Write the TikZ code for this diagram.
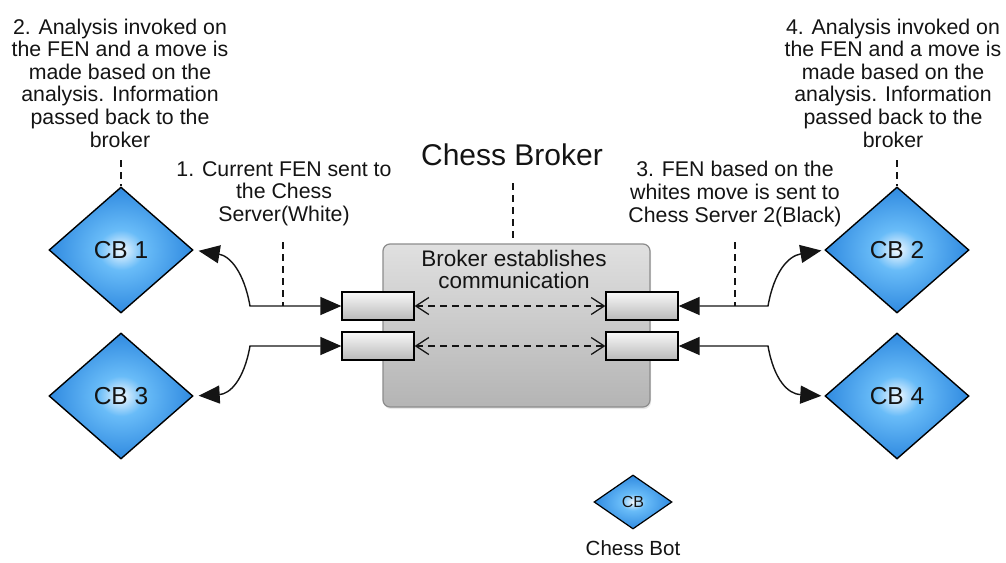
\documentclass[tikz,border=0pt]{standalone}
\usepackage{fontspec}
\setmainfont{Liberation Sans}
\usetikzlibrary{shapes.geometric,arrows.meta,shadows}
\definecolor{cbdark}{RGB}{48,138,224}
\definecolor{cbmid}{RGB}{105,188,248}
\definecolor{cblight}{RGB}{242,249,255}
\definecolor{brokertop}{RGB}{224,224,224}
\definecolor{brokerbot}{RGB}{180,180,180}
\definecolor{brokeredge}{RGB}{140,140,140}
\definecolor{porttop}{RGB}{248,248,248}
\definecolor{portbot}{RGB}{185,185,185}
\definecolor{ink}{RGB}{20,20,20}
% blue glow used inside the bot diamonds
\pgfdeclareradialshading{botglow}{\pgfpoint{0bp}{0bp}}{%
  color(0bp)=(cblight); color(8bp)=(cbmid); color(25bp)=(cbdark); color(50bp)=(cbdark)}
\tikzset{
  bot/.style={diamond, draw=black, line width=1.4pt, inner sep=0pt,
    shading=botglow, text=ink,
    font=\fontsize{24.5}{26}\selectfont},
  note/.style={align=center, text=ink, font=\fontsize{21.3}{22.6}\selectfont},
  brokerbox/.style={rectangle, rounded corners=7pt, draw=brokeredge, line width=1.2pt,
    top color=brokertop, bottom color=brokerbot,
    drop shadow={opacity=0.18, shadow xshift=1pt, shadow yshift=-2pt}},
  port/.style={rectangle, draw=black, line width=1.3pt, minimum width=72pt,
    minimum height=28pt, inner sep=0pt, top color=porttop, bottom color=portbot},
  tipfill/.tip={Triangle[length=21pt,width=18pt]},
  tipbarb/.tip={Straight Barb[length=13pt,width=17pt]},
  conn/.style={line width=1.4pt, draw=ink, tipfill-tipfill},
  link/.style={line width=1.3pt, draw=ink, dash pattern=on 7pt off 5pt, tipbarb-tipbarb},
  ptr/.style={line width=1.4pt, draw=ink, dash pattern=on 7pt off 5pt},
}
\begin{document}
\begin{tikzpicture}[x=1pt,y=-1pt]
\useasboundingbox[fill=white] (0,0) rectangle (1006,562);

% broker with its four ports
\node[brokerbox, minimum width=267pt, minimum height=163pt] (broker) at (516.5,325.5) {};
\node[note, font=\fontsize{22.5}{22}\selectfont] (est) at (514,269) {Broker establishes\\communication};
\node[port] (p1) at (378,306) {};
\node[port] (p3) at (378,346) {};
\node[port] (p2) at (642,306) {};
\node[port] (p4) at (642,346) {};
\draw[link] (p1.east) -- (p2.west);
\draw[link] (p3.east) -- (p4.west);

% chess bots
\node[bot, minimum width=144pt, minimum height=126pt] (cb1) at (121,250) {CB 1};
\node[bot, minimum width=144pt, minimum height=126pt] (cb3) at (121,396) {CB 3};
\node[bot, minimum width=144pt, minimum height=126pt] (cb2) at (897,250) {CB 2};
\node[bot, minimum width=144pt, minimum height=126pt] (cb4) at (897,396) {CB 4};
\node[bot, minimum width=78pt, minimum height=54pt, line width=1.2pt,
      font=\fontsize{16}{18}\selectfont] (cb) at (633,502) {CB};
\node[note, font=\fontsize{20.5}{22}\selectfont] (legend) at (633,548) {Chess Bot};

% connectors between bots and ports
\coordinate (j1) at (250,306);
\coordinate (j3) at (250,346);
\coordinate (j2) at (768,306);
\coordinate (j4) at (768,346);
\draw[conn, shorten >=5pt] (p1.west) -- (j1) .. controls (244,272) and (230,256) .. (cb1.east);
\draw[conn, shorten >=5pt] (p3.west) -- (j3) .. controls (244,380) and (230,394) .. (cb3.east);
\draw[conn, shorten >=3pt] (p2.east) -- (j2) .. controls (774,272) and (788,256) .. (cb2.west);
\draw[conn, shorten >=3pt] (p4.east) -- (j4) .. controls (774,380) and (788,394) .. (cb4.west);

% annotations
\node[note] (n2) at (120,83) {2. Analysis invoked on\\the FEN and a move is\\made based on the\\analysis. Information\\passed back to the\\broker};
\node[note] (n4) at (893,83) {4. Analysis invoked on\\the FEN and a move is\\made based on the\\analysis. Information\\passed back to the\\broker};
\node[note] (n1) at (284,193.5) {1. Current FEN sent to\\the Chess\\Server(White)};
\node[note] (n3) at (735,194) {3. FEN based on the\\whites move is sent to\\Chess Server 2(Black)};
\node[note, font=\fontsize{30}{32}\selectfont] (title) at (512,155) {Chess Broker};

% dashed pointers from the annotations
\coordinate (d2) at (121,160);
\coordinate (d4) at (897,160);
\coordinate (d1) at (283,242);
\coordinate (e1) at (283,306);
\coordinate (d3) at (735,242);
\coordinate (e3) at (735,306);
\coordinate (db) at (513,183);
\coordinate (eb) at (513,240);
\draw[ptr] (d2) -- (cb1.north);
\draw[ptr] (d4) -- (cb2.north);
\draw[ptr] (d1) -- (e1);
\draw[ptr] (d3) -- (e3);
\draw[ptr] (db) -- (eb);
\end{tikzpicture}
\end{document}
